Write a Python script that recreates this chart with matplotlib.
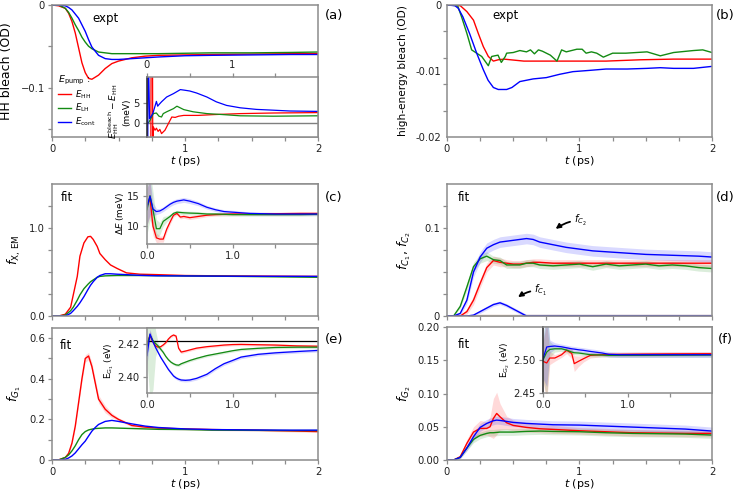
import numpy as np
import matplotlib
matplotlib.use('Agg')
import matplotlib.pyplot as plt
from matplotlib.ticker import FixedLocator, FixedFormatter, NullFormatter

plt.rcParams['font.family'] = ['DejaVu Sans']
plt.rcParams['mathtext.fontset'] = 'dejavusans'

RED = '#ff0000'
GREEN = '#138a13'
BLUE = '#0000ff'

# ---------------- data ----------------
# (a) main: HH bleach (OD)
t_a = [0, 0.05, 0.1, 0.125, 0.15, 0.175, 0.2, 0.225, 0.25, 0.275, 0.3, 0.35, 0.4, 0.45,
       0.5, 0.6, 0.7, 0.8, 1.0, 1.2, 1.5, 1.8, 2.0]
a_red = [0, -0.001, -0.004, -0.01, -0.02, -0.034, -0.052, -0.07, -0.082, -0.089, -0.09, -0.085,
         -0.077, -0.071, -0.068, -0.064, -0.062, -0.061, -0.0605, -0.06, -0.0595, -0.059, -0.059]
a_green = [0, 0, -0.004, -0.009, -0.016, -0.024, -0.031, -0.039, -0.045, -0.05, -0.053, -0.057,
           -0.058, -0.059, -0.059, -0.059, -0.059, -0.059, -0.0585, -0.058, -0.058, -0.0575, -0.057]
a_blue = [0, 0, -0.001, -0.003, -0.006, -0.011, -0.016, -0.024, -0.032, -0.042, -0.051, -0.061,
          -0.065, -0.066, -0.066, -0.065, -0.064, -0.063, -0.0615, -0.061, -0.0605, -0.06, -0.06]

# (a) inset: E_HH^bleach - E_HH (meV)
ai_red_t = [0.045, 0.048, 0.064, 0.068, 0.074, 0.094, 0.11, 0.13, 0.15, 0.17, 0.21, 0.25, 0.29,
            0.33, 0.37, 0.43, 0.6, 0.78, 1.09, 1.48, 2.0]
ai_red = [-10, 20, 20, -10, -1.1, -1.9, -1.4, -2.2, -1.7, -2.75, -1.9, -0.25, 1.4, 1.3, 1.6,
          1.8, 1.8, 2.0, 2.25, 2.4, 2.5]
ai_green_t = [0.02, 0.035, 0.074, 0.11, 0.14, 0.17, 0.19, 0.23, 0.31, 0.35, 0.43, 0.54, 0.7,
              0.89, 1.09, 1.48, 2.0]
ai_green = [0.0, 0.6, 2.25, 2.4, 1.6, 1.4, 2.25, 2.7, 3.5, 4.1, 3.25, 2.7, 2.25, 2.0, 1.7, 1.6, 1.7]
ai_blue_t = [0.008, 0.014, 0.03, 0.05, 0.07, 0.11, 0.125, 0.14, 0.17, 0.23, 0.31, 0.39, 0.44,
             0.5, 0.58, 0.7, 0.81, 0.93, 1.09, 1.28, 1.48, 1.67, 2.0]
ai_blue = [-10, 20, 1.0, 1.6, 2.4, 5.3, 4.1, 4.5, 5.2, 6.4, 7.25, 8.25, 8.1, 7.9, 7.4, 6.4, 5.2,
           4.3, 3.7, 3.3, 3.1, 2.9, 2.8]

# (b) high-energy bleach (OD)
b_red_t = [0, 0.1, 0.15, 0.2, 0.236, 0.274, 0.312, 0.35, 0.387, 0.43, 0.58, 0.8, 1.0, 1.2, 1.46,
           1.71, 2.0]
b_red = [0, -0.0001, -0.001, -0.0023, -0.0043, -0.0063, -0.0078, -0.0085, -0.0083, -0.0082,
         -0.0085, -0.0085, -0.0085, -0.0085, -0.0083, -0.0082, -0.0082]
b_green_t = [0, 0.08, 0.11, 0.15, 0.186, 0.224, 0.262, 0.312, 0.337, 0.36, 0.385, 0.41, 0.44,
             0.45, 0.5, 0.55, 0.6, 0.63, 0.66, 0.69, 0.72, 0.78, 0.83, 0.865, 0.9, 0.94, 0.98,
             1.02, 1.05, 1.09, 1.13, 1.18, 1.25, 1.35, 1.51, 1.61, 1.71, 1.86, 1.93, 2.0]
b_green = [0, -0.0001, -0.0018, -0.0043, -0.0068, -0.0073, -0.0078, -0.0092, -0.0078, -0.0077,
           -0.0076, -0.0087, -0.0078, -0.0073, -0.0072, -0.0069, -0.0071, -0.0068, -0.0074,
           -0.0068, -0.007, -0.0076, -0.0085, -0.0068, -0.0071, -0.0069, -0.0067, -0.0067,
           -0.0073, -0.0071, -0.0073, -0.0079, -0.0073, -0.0073, -0.0071, -0.0077, -0.0072,
           -0.0069, -0.0068, -0.0072]
b_blue_t = [0, 0.06, 0.085, 0.12, 0.17, 0.224, 0.274, 0.31, 0.35, 0.387, 0.45, 0.49, 0.55, 0.65,
            0.75, 0.85, 0.95, 1.08, 1.2, 1.36, 1.51, 1.61, 1.71, 1.86, 2.0]
b_blue = [0, -0.0001, -0.0005, -0.0018, -0.0043, -0.0073, -0.0098, -0.0114, -0.0125, -0.0128,
          -0.0128, -0.0125, -0.0116, -0.0112, -0.011, -0.0105, -0.0101, -0.0099, -0.0097,
          -0.0097, -0.0096, -0.0095, -0.0096, -0.0096, -0.0093]

# (c) main: f_X,EM
t_c = [0, 0.05, 0.1, 0.14, 0.16, 0.19, 0.21, 0.24, 0.27, 0.29, 0.31, 0.34, 0.36, 0.4, 0.44,
       0.49, 0.56, 0.66, 0.79, 1.0, 1.4, 2.0]
c_red = [0, 0, 0.02, 0.1, 0.24, 0.45, 0.68, 0.83, 0.9, 0.905, 0.87, 0.79, 0.71, 0.64, 0.58,
         0.54, 0.49, 0.475, 0.47, 0.46, 0.455, 0.45]
c_green = [0, 0, 0.01, 0.06, 0.1, 0.18, 0.24, 0.31, 0.36, 0.39, 0.41, 0.44, 0.45, 0.456, 0.458,
           0.46, 0.46, 0.46, 0.458, 0.455, 0.45, 0.44]
c_blue = [0, 0, 0.0, 0.03, 0.06, 0.11, 0.15, 0.22, 0.3, 0.35, 0.39, 0.44, 0.46, 0.48, 0.48,
          0.475, 0.47, 0.462, 0.457, 0.455, 0.452, 0.45]

# (c) inset: Delta E (meV)
t_ci = [0, 0.035, 0.07, 0.11, 0.15, 0.19, 0.23, 0.27, 0.31, 0.35, 0.39, 0.43, 0.5, 0.6, 0.7,
        0.8, 0.9, 1.0, 1.2, 1.5, 1.8, 2.0]
ci_blue = [13.2, 14.9, 12.8, 12.4, 12.5, 12.8, 13.2, 13.6, 13.9, 14.1, 14.2, 14.3, 14.1, 13.7,
           13.1, 12.7, 12.4, 12.3, 12.1, 12.0, 12.0, 12.0]
ci_green = [12.7, 15.0, 12.7, 9.6, 9.6, 10.8, 11.2, 11.6, 12.1, 12.3, 12.25, 12.2, 12.15, 12.1,
            12.0, 12.0, 11.95, 11.9, 11.9, 11.9, 11.9, 11.95]
ci_red = [13.2, 14.6, 10.0, 8.1, 7.9, 7.9, 9.5, 10.7, 11.8, 12.1, 11.5, 11.6, 11.4, 11.6, 11.8,
          11.9, 11.95, 12.0, 12.0, 12.05, 12.1, 12.1]
ci_blue_err = [3, 3, 1.0, 0.5, 0.4, 0.4, 0.4, 0.4, 0.4, 0.4, 0.4, 0.4, 0.4, 0.35, 0.3, 0.3, 0.3,
               0.3, 0.25, 0.25, 0.25, 0.25]
ci_green_err = [4, 4, 3, 1.5, 1.0, 0.8, 0.5, 0.4, 0.3, 0.3, 0.3, 0.3, 0.3, 0.3, 0.25, 0.25,
                0.25, 0.25, 0.25, 0.25, 0.25, 0.25]
ci_red_err = [3, 3, 1.5, 0.8, 0.5, 0.5, 0.5, 0.4, 0.3, 0.3, 0.3, 0.3, 0.3, 0.3, 0.25, 0.25,
              0.25, 0.25, 0.25, 0.25, 0.25, 0.25]

# (d): f_C1, f_C2
t_d = [0, 0.05, 0.1, 0.15, 0.2, 0.25, 0.3, 0.35, 0.4, 0.45, 0.5, 0.55, 0.6, 0.65, 0.7, 0.8,
       0.9, 1.0, 1.1, 1.2, 1.3, 1.4, 1.5, 1.6, 1.7, 1.8, 1.9, 2.0]
d_blue_c2 = [0, 0, 0.003, 0.018, 0.05, 0.067, 0.077, 0.081, 0.084, 0.085, 0.086, 0.087, 0.088,
             0.087, 0.084, 0.081, 0.078, 0.076, 0.074, 0.073, 0.072, 0.071, 0.070, 0.0695,
             0.069, 0.0685, 0.068, 0.067]
d_green_c2 = [0, 0, 0.011, 0.033, 0.056, 0.065, 0.068, 0.064, 0.063, 0.058, 0.058, 0.058, 0.06,
              0.06, 0.058, 0.057, 0.058, 0.059, 0.056, 0.059, 0.057, 0.058, 0.059, 0.057, 0.058,
              0.057, 0.055, 0.054]
d_red_c2 = [0, 0, 0, 0.005, 0.018, 0.037, 0.055, 0.063, 0.061, 0.06, 0.059, 0.059, 0.06, 0.061,
            0.061, 0.06, 0.06, 0.06, 0.06, 0.06, 0.06, 0.06, 0.06, 0.06, 0.06, 0.06, 0.06, 0.06]
d_blue_c1 = [0, 0, 0, 0, 0.001, 0.005, 0.009, 0.013, 0.015, 0.012, 0.008, 0.004, 0, 0, 0, 0, 0,
             0, 0, 0, 0, 0, 0, 0, 0, 0, 0, 0]
d_green_c1 = [0] * 28
d_red_c1 = [0] * 28
d_blue_err = [0, 0, 0.002, 0.004, 0.006, 0.006, 0.006, 0.006, 0.006, 0.006, 0.006, 0.006, 0.006,
              0.006, 0.006, 0.006, 0.006, 0.006, 0.006, 0.006, 0.006, 0.006, 0.006, 0.006,
              0.006, 0.006, 0.006, 0.006]
d_green_err = [0, 0, 0.002, 0.004, 0.005, 0.005, 0.005, 0.004, 0.004, 0.004, 0.004, 0.004,
               0.004, 0.004, 0.004, 0.004, 0.004, 0.004, 0.004, 0.004, 0.004, 0.004, 0.004,
               0.004, 0.004, 0.004, 0.004, 0.004]
d_red_err = [0, 0, 0.001, 0.003, 0.005, 0.005, 0.005, 0.005, 0.005, 0.004, 0.004, 0.004, 0.004,
             0.004, 0.004, 0.004, 0.004, 0.004, 0.004, 0.004, 0.004, 0.004, 0.004, 0.004,
             0.004, 0.004, 0.004, 0.004]
d_c1_err = [0, 0, 0, 0, 0.001, 0.002, 0.002, 0.002, 0.002, 0.002, 0.002, 0.002, 0.002, 0.002,
            0.002, 0.002, 0.002, 0.002, 0.002, 0.002, 0.002, 0.002, 0.002, 0.002, 0.002,
            0.002, 0.002, 0.002]

# (e) main: f_G1
t_e = [0, 0.05, 0.1, 0.125, 0.15, 0.175, 0.2, 0.225, 0.25, 0.275, 0.3, 0.325, 0.35, 0.4, 0.45,
       0.5, 0.6, 0.7, 0.8, 1.0, 1.2, 1.5, 1.8, 2.0]
e_red = [0, 0.001, 0.012, 0.033, 0.083, 0.167, 0.283, 0.4, 0.5, 0.512, 0.46, 0.38, 0.3, 0.25,
         0.22, 0.2, 0.17, 0.162, 0.157, 0.153, 0.15, 0.147, 0.143, 0.14]
e_green = [0, 0, 0.013, 0.025, 0.045, 0.07, 0.1, 0.125, 0.14, 0.148, 0.152, 0.155, 0.156, 0.158,
           0.158, 0.157, 0.155, 0.153, 0.151, 0.15, 0.147, 0.146, 0.145, 0.145]
e_blue = [0, 0, 0.003, 0.01, 0.02, 0.035, 0.055, 0.075, 0.093, 0.118, 0.142, 0.16, 0.175, 0.19,
          0.195, 0.19, 0.178, 0.167, 0.16, 0.153, 0.15, 0.148, 0.147, 0.147]
e_red_err = [0, 0, 0.003, 0.005, 0.008, 0.01, 0.012, 0.015, 0.018, 0.018, 0.02, 0.02, 0.02,
             0.018, 0.012, 0.008, 0.006, 0.005, 0.005, 0.005, 0.005, 0.005, 0.005, 0.005]

# (e) inset: E_G1 (eV)
t_ei = [0, 0.035, 0.07, 0.1, 0.13, 0.16, 0.19, 0.22, 0.25, 0.28, 0.31, 0.34, 0.37, 0.4, 0.45,
        0.5, 0.58, 0.7, 0.8, 0.9, 1.0, 1.1, 1.3, 1.5, 1.75, 2.0]
ei_red = [2.420, 2.4253, 2.4215, 2.419, 2.4182, 2.4185, 2.4196, 2.421, 2.4232, 2.4248, 2.4257,
          2.425, 2.4175, 2.4152, 2.4158, 2.4165, 2.4176, 2.4185, 2.419, 2.4195, 2.4198,
          2.4199, 2.4197, 2.4195, 2.419, 2.4188]
ei_green = [2.419, 2.4257, 2.4222, 2.4205, 2.419, 2.417, 2.415, 2.4125, 2.4105, 2.409, 2.408,
            2.4073, 2.4071, 2.408, 2.409, 2.410, 2.4113, 2.413, 2.414, 2.415, 2.416, 2.4168,
            2.4175, 2.418, 2.4182, 2.4182]
ei_blue = [2.413, 2.4263, 2.4215, 2.418, 2.415, 2.412, 2.4095, 2.407, 2.4045, 2.4025, 2.4005,
           2.3993, 2.3985, 2.398, 2.3978, 2.398, 2.399, 2.4015, 2.405, 2.408, 2.410, 2.4121,
           2.4138, 2.4147, 2.4155, 2.4162]
ei_ref = 2.4222
ei_red_err = [0.004, 0.003, 0.0015, 0.001, 0.0008, 0.0008, 0.0008, 0.0008, 0.0008, 0.0008,
              0.0008, 0.001, 0.0012, 0.001, 0.0008, 0.0008, 0.0008, 0.0008, 0.0008, 0.0008,
              0.0008, 0.0008, 0.0008, 0.0008, 0.0008, 0.0008]
ei_green_err = [0.01, 0.04, 0.03, 0.008, 0.002, 0.0012, 0.001, 0.0008, 0.0008, 0.0008, 0.0008,
                0.0008, 0.0008, 0.0008, 0.0008, 0.0008, 0.0008, 0.0008, 0.0008, 0.0008, 0.0008,
                0.0008, 0.0008, 0.0008, 0.0008, 0.0008]
ei_blue_err = [0.006, 0.003, 0.0015, 0.001, 0.001, 0.001, 0.001, 0.001, 0.001, 0.001, 0.001,
               0.001, 0.001, 0.001, 0.001, 0.001, 0.001, 0.001, 0.001, 0.001, 0.001, 0.001,
               0.001, 0.001, 0.001, 0.001]

# (f) main: f_G2
t_f = [0, 0.05, 0.1, 0.15, 0.2, 0.25, 0.3, 0.325, 0.35, 0.375, 0.4, 0.45, 0.5, 0.6, 0.7, 0.8,
       1.0, 1.2, 1.4, 1.6, 1.8, 2.0]
f_red = [0, 0, 0.005, 0.025, 0.042, 0.0475, 0.0475, 0.05, 0.0625, 0.07, 0.065, 0.056, 0.052,
         0.049, 0.047, 0.046, 0.044, 0.0425, 0.041, 0.0405, 0.04, 0.04]
f_green = [0, 0, 0.004, 0.018, 0.031, 0.037, 0.040, 0.041, 0.041, 0.0415, 0.042, 0.042, 0.042,
           0.043, 0.0435, 0.043, 0.0425, 0.041, 0.040, 0.0395, 0.039, 0.0375]
f_blue = [0, 0, 0.004, 0.018, 0.035, 0.049, 0.055, 0.057, 0.059, 0.060, 0.0595, 0.058, 0.0565,
          0.055, 0.054, 0.053, 0.0525, 0.051, 0.0495, 0.048, 0.0465, 0.0435]
f_red_err = [0, 0, 0.002, 0.006, 0.008, 0.012, 0.01, 0.015, 0.03, 0.032, 0.02, 0.01, 0.008,
             0.007, 0.006, 0.006, 0.005, 0.005, 0.005, 0.005, 0.005, 0.005]
f_green_err = [0, 0, 0.002, 0.004, 0.005, 0.005, 0.005, 0.005, 0.005, 0.005, 0.005, 0.005,
               0.005, 0.005, 0.005, 0.005, 0.005, 0.005, 0.005, 0.005, 0.005, 0.005]
f_blue_err = [0, 0, 0.002, 0.004, 0.006, 0.006, 0.006, 0.006, 0.006, 0.006, 0.006, 0.006,
              0.006, 0.006, 0.006, 0.006, 0.006, 0.006, 0.006, 0.006, 0.006, 0.006]

# (f) inset: E_G2 (eV)
t_fi = [0, 0.044, 0.08, 0.14, 0.22, 0.28, 0.34, 0.37, 0.42, 0.48, 0.56, 0.7, 0.78, 0.9, 1.2,
        1.5, 2.0]
fi_blue = [2.502, 2.5197, 2.5205, 2.5212, 2.520, 2.5185, 2.517, 2.5165, 2.5155, 2.5146, 2.513,
           2.5106, 2.5086, 2.508, 2.508, 2.508, 2.508]
fi_green = [2.500, 2.512, 2.516, 2.517, 2.517, 2.515, 2.512, 2.511, 2.5106, 2.5095, 2.508,
            2.5075, 2.507, 2.507, 2.507, 2.5072, 2.5075]
fi_red = [2.498, 2.4955, 2.503, 2.503, 2.508, 2.5147, 2.51, 2.4945, 2.498, 2.502, 2.507, 2.508,
          2.5085, 2.5086, 2.509, 2.5093, 2.5096]
fi_red_err = [0.03, 0.06, 0.01, 0.005, 0.004, 0.005, 0.008, 0.012, 0.008, 0.005, 0.004, 0.003,
              0.003, 0.003, 0.003, 0.003, 0.003]
fi_green_err = [0.03, 0.07, 0.012, 0.005, 0.004, 0.004, 0.003, 0.003, 0.003, 0.003, 0.003,
                0.003, 0.003, 0.003, 0.003, 0.003, 0.003]
fi_blue_err = [0.03, 0.06, 0.01, 0.005, 0.004, 0.004, 0.004, 0.004, 0.004, 0.004, 0.004, 0.004,
               0.004, 0.004, 0.004, 0.004, 0.004]

# ---------------- figure ----------------
W, H = 733, 491
fig = plt.figure(figsize=(W / 100, H / 100), dpi=100)
SPINE = '#8c8c8c'
TICKFS = 7.2


def add_ax(x0, y0, x1, y1, z=1):
    ax = fig.add_axes([x0 / W, 1 - y1 / H, (x1 - x0) / W, (y1 - y0) / H])
    ax.set_zorder(z)
    for s in ax.spines.values():
        s.set_color(SPINE)
        s.set_linewidth(1.1)
    ax.tick_params(which='both', direction='out', color=SPINE, labelsize=TICKFS,
                   labelcolor='#222222', width=0.9, pad=2)
    ax.tick_params(which='both', length=3.2)
    ax.tick_params(axis='x', which='both', pad=1.5)
    return ax


def set_ticks(axis, major, labels, minor=None):
    axis.set_major_locator(FixedLocator(major))
    axis.set_major_formatter(FixedFormatter(labels))
    if minor is not None:
        axis.set_minor_locator(FixedLocator(minor))
        axis.set_minor_formatter(NullFormatter())


def main_x(ax, labels=True):
    ax.set_xlim(0, 2)
    set_ticks(ax.xaxis, [0, 1, 2], ['0', '1', '2'] if labels else ['', '', ''],
              [0.25, 0.5, 0.75, 1.25, 1.5, 1.75])
    if labels:
        ax.set_xlabel('$t$ (ps)', fontsize=8, labelpad=0)


def inset_x(ax):
    ax.set_xlim(0, 2)
    set_ticks(ax.xaxis, [0, 1], ['0.0', '1.0'], [0.5, 1.5])


def band(ax, t, v, e, c, a=0.15):
    t = np.asarray(t)
    v = np.asarray(v)
    e = np.asarray(e)
    ax.fill_between(t, v - e, v + e, color=c, alpha=a, lw=0)


LW = 1.0

# ---- (a)
axA = add_ax(52, 5, 318, 137)
axA.plot(t_a, a_red, color=RED, lw=LW, label=r'$E_{\rm HH}$')
axA.plot(t_a, a_green, color=GREEN, lw=LW, label=r'$E_{\rm LH}$')
axA.plot(t_a, a_blue, color=BLUE, lw=LW, label=r'$E_{\rm cont}$')
axA.set_ylim(-0.16, 0)
main_x(axA)
set_ticks(axA.yaxis, [0, -0.1], ['0', '\u22120.1'], [-0.05, -0.15])
axA.set_ylabel('HH bleach (OD)', fontsize=9)
axA.yaxis.set_label_coords(-0.148, 0.5)
axA.text(0.2, 0.9, 'expt', transform=axA.transAxes, fontsize=8.5, ha='center', va='center')
leg = axA.legend(loc='lower left', bbox_to_anchor=(0.0, 0.02), fontsize=6.3, frameon=False,
                 title=r'$E_{\rm pump}$ :', title_fontsize=6.8, handlelength=1.5,
                 handletextpad=0.4, labelspacing=0.15, borderpad=0.2, alignment='left')

axAi = add_ax(147, 77, 318, 137, z=2)
axAi.axhline(0, color='#7f7f7f', lw=1.0)
axAi.plot(ai_red_t, ai_red, color=RED, lw=0.9)
axAi.plot(ai_green_t, ai_green, color=GREEN, lw=0.9)
axAi.plot(ai_blue_t, ai_blue, color=BLUE, lw=0.9)
axAi.set_xlim(0, 2)
axAi.set_ylim(-3.6, 11.4)
set_ticks(axAi.xaxis, [0, 1], ['0', '1'], [0.5, 1.5])
axAi.xaxis.tick_top()
axAi.xaxis.set_label_position('top')
axAi.tick_params(axis='x', which='both', top=True, bottom=False, labeltop=True,
                 labelbottom=False)
set_ticks(axAi.yaxis, [0, 5], ['0', '5'])
axAi.spines['left'].set_color('#222222')
axAi.text(-0.165, 0.42, r'$E_{\rm HH}^{\rm bleach}-E_{\rm HH}$' + '\n(meV)',
          transform=axAi.transAxes, rotation=90, ha='center', va='center', fontsize=6.5,
          linespacing=1.2)

# ---- (b)
axB = add_ax(447, 5, 712, 137)
axB.plot(b_red_t, b_red, color=RED, lw=LW)
axB.plot(b_green_t, b_green, color=GREEN, lw=LW)
axB.plot(b_blue_t, b_blue, color=BLUE, lw=LW)
axB.set_ylim(-0.02, 0)
main_x(axB)
set_ticks(axB.yaxis, [0, -0.01, -0.02], ['0', '-0.01', '-0.02'],
          [-0.004, -0.008, -0.012, -0.016])
axB.tick_params(axis='y', which='major', length=0, pad=4)
axB.set_ylabel('high-energy bleach (OD)', fontsize=7.6)
axB.yaxis.set_label_coords(-0.147, 0.5)
axB.text(0.219, 0.917, 'expt', transform=axB.transAxes, fontsize=8.5, ha='center', va='center')

# ---- (c)
axC = add_ax(52, 184, 318, 316)
axC.plot(t_c, c_red, color=RED, lw=LW)
axC.plot(t_c, c_green, color=GREEN, lw=LW)
axC.plot(t_c, c_blue, color=BLUE, lw=LW)
axC.set_ylim(0, 1.5)
main_x(axC, labels=False)
set_ticks(axC.yaxis, [0, 1.0], ['0.0', '1.0'], [0.25, 0.5, 0.75, 1.25])
axC.set_ylabel(r'$f_{\rm X,\,EM}$', fontsize=9)
axC.yaxis.set_label_coords(-0.11, 0.5)
axC.text(0.056, 0.894, 'fit', transform=axC.transAxes, fontsize=8.5, ha='center', va='center')

axCi = add_ax(147, 184, 318, 244, z=2)
band(axCi, t_ci, ci_red, ci_red_err, RED)
band(axCi, t_ci, ci_green, ci_green_err, GREEN)
band(axCi, t_ci, ci_blue, ci_blue_err, BLUE)
axCi.plot(t_ci, ci_red, color=RED, lw=0.9)
axCi.plot(t_ci, ci_green, color=GREEN, lw=0.9)
axCi.plot(t_ci, ci_blue, color=BLUE, lw=0.9)
inset_x(axCi)
axCi.set_ylim(7.1, 16.9)
set_ticks(axCi.yaxis, [10, 15], ['10', '15'])
axCi.set_ylabel(r'$\Delta E$ (meV)', fontsize=6.4, labelpad=1)

# ---- (d)
axD = add_ax(447, 184, 712, 316)
band(axD, t_d, d_red_c2, d_red_err, RED)
band(axD, t_d, d_green_c2, d_green_err, GREEN)
band(axD, t_d, d_blue_c2, d_blue_err, BLUE)
band(axD, t_d, d_red_c1, d_c1_err, RED)
band(axD, t_d, d_green_c1, d_c1_err, GREEN)
band(axD, t_d, d_blue_c1, d_c1_err, BLUE)
axD.plot(t_d, d_red_c1, color=RED, lw=0.8, alpha=0.5)
axD.plot(t_d, d_green_c1, color=GREEN, lw=0.8, alpha=0.5)
axD.plot(t_d, d_red_c2, color=RED, lw=LW)
axD.plot(t_d, d_green_c2, color=GREEN, lw=LW)
axD.plot(t_d, d_blue_c2, color=BLUE, lw=LW)
axD.plot(t_d, d_blue_c1, color=BLUE, lw=LW)
axD.set_ylim(0, 0.15)
main_x(axD, labels=False)
set_ticks(axD.yaxis, [0, 0.1], ['0', '0.1'], [0.025, 0.05, 0.075, 0.125])
axD.set_ylabel(r'$f_{C_1},\, f_{C_2}$', fontsize=9)
axD.yaxis.set_label_coords(-0.128, 0.5)
axD.text(0.064, 0.894, 'fit', transform=axD.transAxes, fontsize=8.5, ha='center', va='center')
arrow = dict(arrowstyle='-|>', color='k', lw=1.3, mutation_scale=7, shrinkA=1, shrinkB=0,
             connectionstyle='arc3,rad=0.15')
axD.annotate(r'$f_{C_2}$', xy=(0.82, 0.099), xytext=(0.96, 0.109), fontsize=7,
             ha='left', va='center', arrowprops=arrow)
axD.annotate(r'$f_{C_1}$', xy=(0.536, 0.0215), xytext=(0.66, 0.0295), fontsize=7,
             ha='left', va='center', arrowprops=arrow)

# ---- (e)
axE = add_ax(52, 328, 318, 460)
band(axE, t_e, e_red, e_red_err, RED)
axE.plot(t_e, e_red, color=RED, lw=LW)
axE.plot(t_e, e_green, color=GREEN, lw=LW)
axE.plot(t_e, e_blue, color=BLUE, lw=LW)
axE.set_ylim(0, 0.65)
main_x(axE)
set_ticks(axE.yaxis, [0, 0.2, 0.4, 0.6], ['0', '0.2', '0.4', '0.6'], [0.1, 0.3, 0.5])
axE.set_ylabel(r'$f_{G_1}$', fontsize=9)
axE.yaxis.set_label_coords(-0.11, 0.5)
axE.text(0.053, 0.87, 'fit', transform=axE.transAxes, fontsize=8.5, ha='center', va='center')

axEi = add_ax(147, 328, 318, 393, z=2)
band(axEi, t_ei, ei_red, ei_red_err, RED)
band(axEi, t_ei, ei_green, ei_green_err, GREEN)
band(axEi, t_ei, ei_blue, ei_blue_err, BLUE)
axEi.axhline(ei_ref, color='k', lw=0.9)
axEi.plot(t_ei, ei_red, color=RED, lw=0.9)
axEi.plot(t_ei, ei_green, color=GREEN, lw=0.9)
axEi.plot(t_ei, ei_blue, color=BLUE, lw=0.9)
inset_x(axEi)
axEi.set_ylim(2.39, 2.43)
set_ticks(axEi.yaxis, [2.40, 2.42], ['2.40', '2.42'])
axEi.set_ylabel(r'$\mathrm{E}_{\mathrm{G}_1}$ (eV)', fontsize=6.4, labelpad=1)

# ---- (f)
axF = add_ax(447, 327, 712, 460)
band(axF, t_f, f_red, f_red_err, RED)
band(axF, t_f, f_green, f_green_err, GREEN)
band(axF, t_f, f_blue, f_blue_err, BLUE)
axF.plot(t_f, f_red, color=RED, lw=LW)
axF.plot(t_f, f_green, color=GREEN, lw=LW)
axF.plot(t_f, f_blue, color=BLUE, lw=LW)
axF.set_ylim(0, 0.2)
main_x(axF)
set_ticks(axF.yaxis, [0, 0.05, 0.1, 0.15, 0.2], ['0.00', '0.05', '0.10', '0.15', '0.20'])
axF.set_ylabel(r'$f_{G_2}$', fontsize=9)
axF.yaxis.set_label_coords(-0.128, 0.5)
axF.text(0.064, 0.865, 'fit', transform=axF.transAxes, fontsize=8.5, ha='center', va='center')

axFi = add_ax(543, 327, 712, 393, z=2)
band(axFi, t_fi, fi_red, fi_red_err, RED)
band(axFi, t_fi, fi_green, fi_green_err, GREEN)
band(axFi, t_fi, fi_blue, fi_blue_err, BLUE)
axFi.plot(t_fi, fi_red, color=RED, lw=0.9)
axFi.plot(t_fi, fi_green, color=GREEN, lw=0.9)
axFi.plot(t_fi, fi_blue, color=BLUE, lw=0.9)
inset_x(axFi)
axFi.set_ylim(2.45, 2.55)
set_ticks(axFi.yaxis, [2.45, 2.50], ['2.45', '2.50'])
axFi.spines['left'].set_color('#222222')
axFi.set_ylabel(r'$\mathrm{E}_{\mathrm{G}_2}$ (eV)', fontsize=6.4, labelpad=1)

# panel letters
for lab, (px, py) in {'(a)': (334, 15), '(b)': (725, 15), '(c)': (334, 198),
                      '(d)': (725, 198), '(e)': (334, 340), '(f)': (725, 340)}.items():
    fig.text(px / W, 1 - py / H, lab, fontsize=9.5, ha='center', va='center')

fig.savefig('out.png', dpi=100)
